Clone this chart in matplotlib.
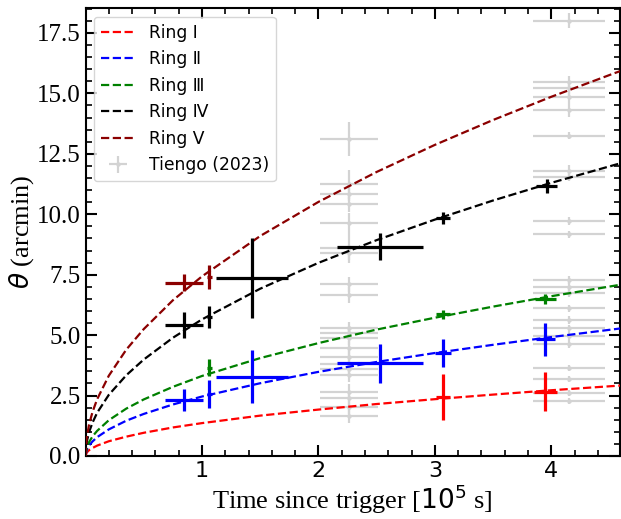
import matplotlib
matplotlib.use("Agg")
import matplotlib.pyplot as plt
from matplotlib.ticker import MultipleLocator

# model curves (time in 1e5 s, angle in arcmin)
curve_t = [0, 0.01, 0.03, 0.06, 0.1, 0.2, 0.35, 0.5, 0.75, 1.0, 1.5, 2.0, 2.5, 3.0, 3.5, 4.0, 4.55, 4.65]
ring1_curve = [0, 0.14, 0.24, 0.33, 0.43, 0.61, 0.80, 0.96, 1.18, 1.36, 1.67, 1.92, 2.15, 2.35, 2.54, 2.72, 2.90, 2.93]
ring2_curve = [0, 0.25, 0.43, 0.60, 0.78, 1.10, 1.46, 1.74, 2.13, 2.46, 3.01, 3.48, 3.89, 4.26, 4.60, 4.92, 5.25, 5.31]
ring3_curve = [0, 0.33, 0.57, 0.81, 1.04, 1.48, 1.96, 2.34, 2.86, 3.31, 4.05, 4.67, 5.23, 5.72, 6.18, 6.61, 7.05, 7.13]
ring4_curve = [0, 0.57, 0.98, 1.38, 1.79, 2.53, 3.34, 3.99, 4.89, 5.65, 6.92, 7.99, 8.93, 9.78, 10.57, 11.30, 12.05, 12.18]
ring5_curve = [0, 0.74, 1.29, 1.82, 2.35, 3.32, 4.40, 5.25, 6.44, 7.43, 9.10, 10.51, 11.75, 12.87, 13.90, 14.86, 15.85, 16.02]

# measured ring radii
ring1_t = [3.07, 3.95]
ring1_th = [2.43, 2.66]
ring1_xerr = [0.06, 0.10]
ring1_yerr = [0.95, 0.80]

ring2_t = [0.845, 1.063, 1.43, 2.53, 3.07, 3.95]
ring2_th = [2.32, 2.56, 3.28, 3.83, 4.27, 4.83]
ring2_xerr = [0.16, 0.02, 0.31, 0.37, 0.07, 0.08]
ring2_yerr = [0.46, 0.59, 1.10, 0.80, 0.57, 0.68]

ring3_t = [1.063, 3.07, 3.95]
ring3_th = [3.65, 5.86, 6.50]
ring3_xerr = [0.02, 0.06, 0.09]
ring3_yerr = [0.35, 0.20, 0.20]

ring4_t = [0.845, 1.063, 1.43, 2.53, 3.07, 3.96]
ring4_th = [5.42, 5.76, 7.35, 8.66, 9.86, 11.17]
ring4_xerr = [0.16, 0.02, 0.31, 0.37, 0.06, 0.09]
ring4_yerr = [0.55, 0.45, 1.65, 0.57, 0.25, 0.30]

ring5_t = [0.845, 1.063]
ring5_th = [7.17, 7.40]
ring5_xerr = [0.16, 0.02]
ring5_yerr = [0.36, 0.50]

# Tiengo (2023) rings
tiengo_t = [2.26] * 21 + [4.15] * 22
tiengo_th = [13.10, 11.25, 10.83, 10.41, 9.65, 8.62, 8.41, 7.10, 6.66, 5.31, 5.08,
             4.90, 4.45, 4.11, 3.79, 3.59, 3.35, 2.66, 2.39, 2.04, 1.65,
             18.01, 15.46, 15.21, 14.87, 14.31, 13.25, 11.80, 11.56, 9.72, 9.17, 7.28,
             7.00, 6.76, 6.11, 5.63, 5.28, 4.96, 4.63, 3.63, 3.19, 2.62, 2.26]
tiengo_xerr = [0.25] * 21 + [0.31] * 22
tiengo_yerr = [0.70, 0.60, 0.30, 0.30, 0.40, 0.64, 0.30, 0.30, 0.33, 0.25, 0.30,
               0.30, 0.30, 0.30, 0.30, 0.30, 0.30, 0.30, 0.30, 0.30, 0.29,
               0.30, 0.26, 0.30, 0.30, 0.27, 0.15, 0.24, 0.20, 0.18, 0.15, 0.15,
               0.20, 0.20, 0.15, 0.15, 0.15, 0.15, 0.15, 0.12, 0.12, 0.12, 0.12]

serif = "Liberation Serif"

fig = plt.figure(figsize=(6.21, 5.19), dpi=100)
ax = fig.add_axes([0.1377, 0.1214, 0.8607, 0.8626])

ax.errorbar(tiengo_t, tiengo_th, xerr=tiengo_xerr, yerr=tiengo_yerr, fmt='o', ms=2.2,
            color='lightgray', elinewidth=1.6, capsize=0, zorder=1, label='Tiengo (2023)')

curves = [ring1_curve, ring2_curve, ring3_curve, ring4_curve, ring5_curve]
colors = ['red', 'blue', 'green', 'black', '#8b0000']
names = ['Ring Ⅰ', 'Ring Ⅱ', 'Ring Ⅲ', 'Ring Ⅳ', 'Ring Ⅴ']
for c, col, name in zip(curves, colors, names):
    ax.plot(curve_t, c, '--', color=col, lw=1.6, label=name, zorder=3)

points = [
    (ring1_t, ring1_th, ring1_xerr, ring1_yerr),
    (ring2_t, ring2_th, ring2_xerr, ring2_yerr),
    (ring3_t, ring3_th, ring3_xerr, ring3_yerr),
    (ring4_t, ring4_th, ring4_xerr, ring4_yerr),
    (ring5_t, ring5_th, ring5_xerr, ring5_yerr),
]
for (t, th, xe, ye), col in zip(points, colors):
    ax.errorbar(t, th, xerr=xe, yerr=ye, fmt='none', ecolor=col, elinewidth=2.3,
                capsize=0, zorder=4)

ax.set_xlim(0, 4.59)
ax.set_ylim(0, 18.52)
ax.set_xticks([1, 2, 3, 4])
ax.xaxis.set_minor_locator(MultipleLocator(0.2))
ax.yaxis.set_major_locator(MultipleLocator(2.5))
ax.yaxis.set_minor_locator(MultipleLocator(0.5))
ax.tick_params(which='both', direction='in', top=True, right=True)
ax.tick_params(which='major', length=8, width=1.5)
ax.tick_params(which='minor', length=4.5, width=1.2)
ax.tick_params(axis='x', labelsize=16)
ax.tick_params(axis='y', labelsize=18)
for lab in ax.get_yticklabels():
    lab.set_fontfamily(serif)
for s in ax.spines.values():
    s.set_linewidth(1.5)

ax.set_xlabel('Time since trigger [$10^5$ s]', fontsize=19, family=serif, labelpad=1)
ax.set_ylabel(r'$\theta$ (arcmin)', fontsize=19, family=serif, labelpad=1)

# legend: rings first, Tiengo last
handles, labels = ax.get_legend_handles_labels()
ax.legend(handles, labels, loc='upper left', fontsize=12.3)

fig.savefig('out.png', dpi=100)
